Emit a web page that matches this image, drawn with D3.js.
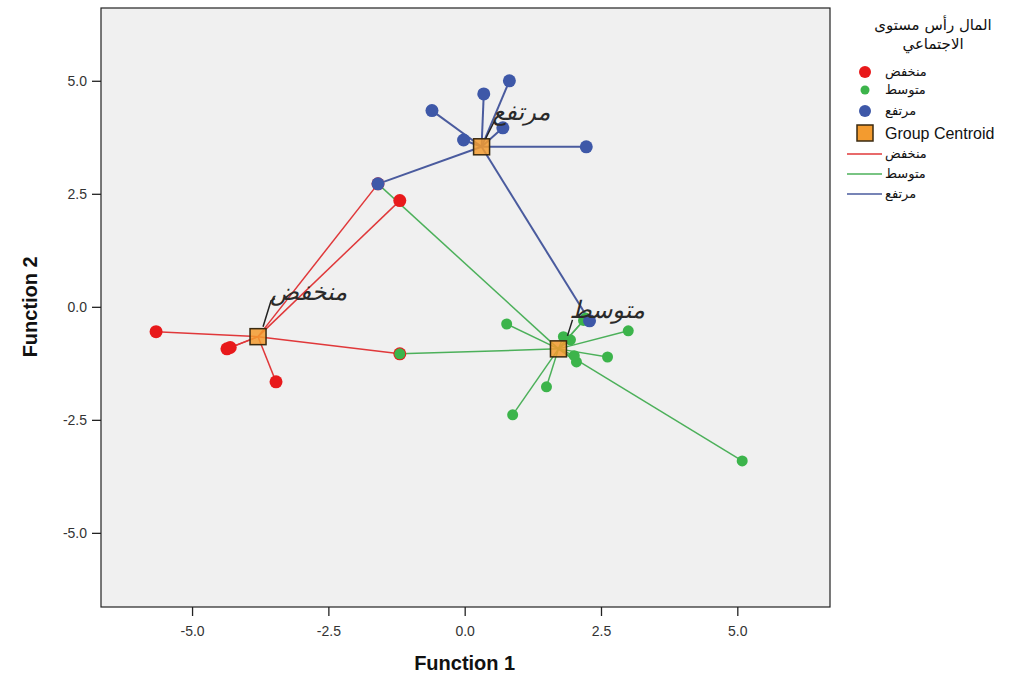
<!DOCTYPE html>
<html><head><meta charset="utf-8">
<script src="https://cdn.jsdelivr.net/npm/d3@7"></script>
<style>body{margin:0;background:#fff}svg{display:block}</style>
</head><body>
<svg id="c" width="1024" height="679"></svg>
<script>
// ---- data ----
const groups = ["منخفض", "متوسط", "مرتفع"];
const legendTitle = ["المال رأس مستوى", "الاجتماعي"];
const xTicks = [-5.0, -2.5, 0.0, 2.5, 5.0];
const yTicks = [5.0, 2.5, 0.0, -2.5, -5.0];
const lowX  = [-5.66, -4.36, -4.30, -3.46, -1.19, -1.59, -1.19];
const lowY  = [-0.55, -0.93, -0.90, -1.66,  2.35,  2.72, -1.04];
const midX  = [-1.59, -1.19, 0.77, 3.00, 2.62, 2.05, 2.01, 1.50, 0.88, 5.09, 1.81, 1.94, 2.22, 2.18];
const midY  = [ 2.72, -1.04, -0.38, -0.53, -1.11, -1.22, -1.08, -1.77, -2.39, -3.41, -0.66, -0.73, -0.25, -0.30];
const highX = [-0.60, 0.35, 0.82, 0.70, -0.02, 2.23, -1.59, 2.29];
const highY = [ 4.34, 4.71, 5.00, 3.96,  3.69, 3.54,  2.72, -0.31];
const centroidX = [-3.79, 1.72, 0.31];
const centroidY = [-0.66, -0.93, 3.54];

const colors = ["#e8191b", "#3cb44b", "#3e58a8"];
const lineColors = ["#e0383a", "#4cb05a", "#4a5b9e"];
const radii = [6.5, 5.5, 6.5];

const svg = d3.select("#c");
const L = 101, R = 830, T = 8, B = 607;
const x = d3.scaleLinear().domain([-6.67, 6.70]).range([L, R]);
const y = d3.scaleLinear().domain([-6.64, 6.61]).range([B, T]);

svg.append("rect").attr("x", L).attr("y", T).attr("width", R - L).attr("height", B - T)
  .attr("fill", "#f0f0f0").attr("stroke", "#222").attr("stroke-width", 1.2);

// axes
const fmt = d => d3.format(".1f")(d).replace("\u2212", "-");
const xa = svg.append("g").attr("transform", `translate(0,${B})`)
  .call(d3.axisBottom(x).tickValues(xTicks).tickFormat(fmt).tickSize(9).tickSizeOuter(0));
const ya = svg.append("g").attr("transform", `translate(${L},0)`)
  .call(d3.axisLeft(y).tickValues(yTicks).tickFormat(fmt).tickSize(9).tickSizeOuter(0));
[xa, ya].forEach(a => {
  a.select(".domain").remove();
  a.selectAll("line").attr("stroke", "#222").attr("stroke-width", 1.3);
  a.selectAll("text").attr("font-family", "Liberation Sans, Arial, sans-serif")
    .attr("font-size", 14).attr("fill", "#333");
});
xa.selectAll("text").attr("dy", "1.05em").attr("y", 14);
ya.selectAll("text").attr("x", -14);

svg.append("text").attr("x", x(0)).attr("y", 670).attr("text-anchor", "middle")
  .attr("font-family", "Liberation Sans, Arial, sans-serif").attr("font-weight", "bold")
  .attr("font-size", 20).attr("fill", "#111").text("Function 1");
svg.append("text").attr("transform", `translate(37,${y(0)}) rotate(-90)`).attr("text-anchor", "middle")
  .attr("font-family", "Liberation Sans, Arial, sans-serif").attr("font-weight", "bold")
  .attr("font-size", 20).attr("fill", "#111").text("Function 2");

const data = [[lowX, lowY], [midX, midY], [highX, highY]];
const plot = svg.append("g");

// lines from each case to group centroid
data.forEach(([xs, ys], g) => {
  plot.append("g").selectAll("line").data(xs).join("line")
    .attr("x1", (d) => x(d)).attr("y1", (d, i) => y(ys[i]))
    .attr("x2", x(centroidX[g])).attr("y2", y(centroidY[g]))
    .attr("stroke", lineColors[g]).attr("stroke-width", g === 2 ? 2 : 1.5);
});
// points
data.forEach(([xs, ys], g) => {
  plot.append("g").selectAll("circle").data(xs).join("circle")
    .attr("cx", (d) => x(d)).attr("cy", (d, i) => y(ys[i]))
    .attr("r", radii[g]).attr("fill", colors[g]);
});
// centroids
plot.append("g").selectAll("rect").data(centroidX).join("rect")
  .attr("x", (d) => x(d) - 8).attr("y", (d, i) => y(centroidY[i]) - 8)
  .attr("width", 16).attr("height", 16)
  .attr("fill", "#f39b2f").attr("fill-opacity", 0.85).attr("stroke", "#3a2a10").attr("stroke-width", 1.5);

// centroid labels with leader lines
const labOff = [[12, -37], [11, -31], [11, -27]];
const leadOff = [[[17, -38], [13, -36], [5, -10]], [[14, -29], [9, -13]], [[13, -26], [4, -8]]];
centroidX.forEach((cx, g) => {
  const px = x(cx), py = y(centroidY[g]);
  svg.append("text").attr("x", px + labOff[g][0]).attr("y", py + labOff[g][1])
    .attr("text-anchor", "start")
    .attr("font-family", "DejaVu Sans, sans-serif").attr("font-size", 24).attr("font-style", "italic")
    .attr("fill", "#2a2a2a").text(groups[g]);
  svg.append("path")
    .attr("d", d3.line()(leadOff[g].map(p => [px + p[0], py + p[1]])))
    .attr("fill", "none").attr("stroke", "#222").attr("stroke-width", 1.5);
});

// legend
const lg = svg.append("g");
legendTitle.forEach((t, i) => {
  lg.append("text").attr("x", 933).attr("y", 30 + i * 19).attr("text-anchor", "middle")
    .attr("font-family", "DejaVu Sans, sans-serif").attr("font-size", 15).attr("fill", "#111").text(t);
});
const lx = 865, tx = 885;
groups.forEach((gname, g) => {
  const yy = [72, 90, 111][g];
  lg.append("circle").attr("cx", lx).attr("cy", yy).attr("r", [6, 4.5, 6][g]).attr("fill", colors[g]);
  lg.append("text").attr("x", tx).attr("y", yy + 4).attr("text-anchor", "start")
    .attr("font-family", "DejaVu Sans, sans-serif").attr("font-size", 13).attr("fill", "#111").text(gname);
});
lg.append("rect").attr("x", lx - 8).attr("y", 125).attr("width", 16).attr("height", 16)
  .attr("fill", "#f39b2f").attr("stroke", "#3a2a10").attr("stroke-width", 1.5);
lg.append("text").attr("x", tx).attr("y", 139).attr("font-family", "Liberation Sans, Arial, sans-serif")
  .attr("font-size", 16).attr("fill", "#111").text("Group Centroid");
groups.forEach((gname, g) => {
  const yy = [154, 174, 194][g];
  lg.append("line").attr("x1", 847).attr("x2", 882).attr("y1", yy).attr("y2", yy)
    .attr("stroke", lineColors[g]).attr("stroke-width", 1.5);
  lg.append("text").attr("x", tx).attr("y", yy + 4).attr("text-anchor", "start")
    .attr("font-family", "DejaVu Sans, sans-serif").attr("font-size", 13).attr("fill", "#111").text(gname);
});
</script>
</body></html>
